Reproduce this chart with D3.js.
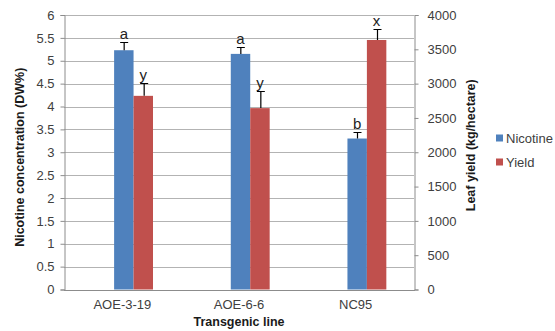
<!DOCTYPE html>
<html>
<head>
<meta charset="utf-8">
<script src="https://cdn.jsdelivr.net/npm/d3@7"></script>
<style>
  html, body { margin: 0; padding: 0; background: #fff; }
  svg { display: block; font-family: Arial, "Liberation Sans", sans-serif; }
</style>
</head>
<body>
<svg id="chart" width="555" height="331"></svg>
<script>
// Transgenic lines and their measurements
const lines = ["AOE-3-19", "AOE-6-6", "NC95"];
const nicotine = [5.23, 5.15, 3.30];          // % dry weight
const nicotineErr = [0.17, 0.16, 0.14];
const nicotineLetters = ["a", "a", "b"];
const yieldVals = [2822, 2643, 3636];         // kg/hectare
const yieldErr = [185, 255, 160];
const yieldLetters = ["y", "y", "x"];
const leftTicks = [0, 0.5, 1, 1.5, 2, 2.5, 3, 3.5, 4, 4.5, 5, 5.5, 6];
const rightTicks = [0, 500, 1000, 1500, 2000, 2500, 3000, 3500, 4000];
const seriesNames = ["Nicotine", "Yield"];
const colors = { Nicotine: "#4F81BD", Yield: "#C0504D" };

const svg = d3.select("#chart");
const m = { left: 64, right: 414, top: 15, bottom: 289.5 };

const x = d3.scaleBand().domain(lines).range([m.left + 1.5, m.right + 1.5])
  .paddingInner(0.5).paddingOuter(0.25);
const xLab = d3.scaleBand().domain(lines).range([m.left, m.right]);
// three slots per group; the first slot is left empty
const xi = d3.scaleBand().domain(["_", "Nicotine", "Yield"]).range([0, x.bandwidth()]);
const yL = d3.scaleLinear().domain([0, 6]).range([m.bottom, m.top]);
const yR = d3.scaleLinear().domain([0, 4000]).range([m.bottom, m.top]);

// horizontal gridlines
svg.append("g").selectAll("line").data(leftTicks).join("line")
  .attr("x1", m.left).attr("x2", m.right)
  .attr("y1", d => Math.round(yL(d)) + 0.5).attr("y2", d => Math.round(yL(d)) + 0.5)
  .attr("stroke", "#b3b3b3").attr("stroke-width", 1);

// left axis
const axL = svg.append("g").attr("transform", `translate(${m.left + 0.5},0)`)
  .call(d3.axisLeft(yL).tickValues(leftTicks).tickFormat(d3.format("")).tickSize(4).tickPadding(6));
// right axis
const axR = svg.append("g").attr("transform", `translate(${m.right + 0.5},0)`)
  .call(d3.axisRight(yR).tickValues(rightTicks).tickFormat(d3.format("")).tickSize(4).tickPadding(9));
// bottom axis
const axB = svg.append("g").attr("transform", `translate(0,${Math.round(m.bottom) + 0.5})`)
  .call(d3.axisBottom(xLab).tickSize(0).tickPadding(9));

[axL, axR, axB].forEach(a => {
  a.select(".domain").attr("stroke", "#8c8c8c");
  a.selectAll(".tick line").attr("stroke", "#8c8c8c");
  a.selectAll("text").attr("fill", "#404040").style("font-size", "13px")
    .style("font-family", "Arial, 'Liberation Sans', sans-serif");
});
axB.select(".domain").attr("d", `M${m.left},0H${m.right + 1}`);

// bars
const data = lines.map((l, i) => ({ line: l, vals: [
  { s: "Nicotine", v: nicotine[i], e: nicotineErr[i], t: nicotineLetters[i], y: yL },
  { s: "Yield", v: yieldVals[i], e: yieldErr[i], t: yieldLetters[i], y: yR }
]}));

const groups = svg.append("g").selectAll("g").data(data).join("g")
  .attr("transform", d => `translate(${x(d.line)},0)`);

groups.selectAll("rect").data(d => d.vals).join("rect")
  .attr("x", d => xi(d.s)).attr("width", xi.bandwidth())
  .attr("y", d => d.y(d.v)).attr("height", d => d.y(0) - d.y(d.v))
  .attr("fill", d => colors[d.s]);

// error bars (upper half with cap)
groups.selectAll("path.err").data(d => d.vals).join("path").attr("class", "err")
  .attr("d", d => {
    const cx = Math.round(xi(d.s) + xi.bandwidth() / 2) + 0.5;
    const y0 = d.y(d.v), y1 = Math.round(d.y(d.v + d.e)) + 0.5;
    return `M${cx},${y0}V${y1}M${cx - 4},${y1}H${cx + 4}`;
  })
  .attr("stroke", "#000").attr("stroke-width", 1.2).attr("fill", "none");

// significance letters
groups.selectAll("text.sig").data(d => d.vals).join("text").attr("class", "sig")
  .attr("x", d => xi(d.s) + xi.bandwidth() / 2)
  .attr("y", d => d.y(d.v + d.e) - 3)
  .attr("text-anchor", "middle")
  .style("font-size", "15px").attr("fill", "#222")
  .text(d => d.t);

// axis titles
svg.append("text")
  .attr("transform", `translate(24,${(m.top + m.bottom) / 2 + 5}) rotate(-90)`)
  .attr("text-anchor", "middle").style("font-size", "12.5px").style("font-weight", "bold")
  .attr("fill", "#1a1a1a")
  .text("Nicotine concentration (DW%)");

svg.append("text")
  .attr("transform", `translate(475,${(m.top + m.bottom) / 2 - 7}) rotate(-90)`)
  .attr("text-anchor", "middle").style("font-size", "12.5px").style("font-weight", "bold")
  .attr("fill", "#1a1a1a")
  .text("Leaf yield  (kg/hectare)");

svg.append("text")
  .attr("x", (m.left + m.right) / 2).attr("y", 326)
  .attr("text-anchor", "middle").style("font-size", "12.5px").style("font-weight", "bold")
  .attr("fill", "#1a1a1a")
  .text("Transgenic line");

// legend
const leg = svg.append("g").attr("transform", "translate(496,138)");
const li = leg.selectAll("g").data(seriesNames).join("g")
  .attr("transform", (d, i) => `translate(0,${i * 24})`);
li.append("rect").attr("x", 0).attr("y", -3.5).attr("width", 7).attr("height", 7)
  .attr("fill", d => colors[d]);
li.append("text").attr("x", 10).attr("y", 4.5)
  .style("font-size", "13px").attr("fill", "#404040").text(d => d);
</script>
</body>
</html>
